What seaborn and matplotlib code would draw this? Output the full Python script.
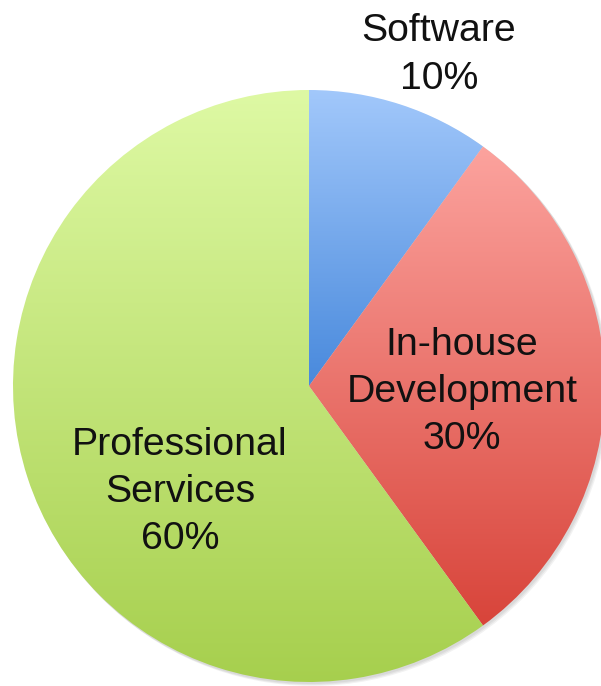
import numpy as np
import matplotlib
matplotlib.use("Agg")
import matplotlib.pyplot as plt
import seaborn as sns
from matplotlib.colors import LinearSegmentedColormap

sns.set_theme(style="white")
plt.rcParams['font.family'] = ['Liberation Sans', 'DejaVu Sans']

categories = ["Software", "In-house\nDevelopment", "Professional\nServices"]
shares = [10, 30, 60]
top_colors = ["#a2c8fb", "#fca39e", "#def9a4"]
bottom_colors = ["#4889dc", "#d8443a", "#a6cf4d"]
label_pos = [(439, 55), (462, 392), (180, 492)]  # pixel coords (x, y from top)

W, H = 601, 686
fig = plt.figure(figsize=(W / 100, H / 100), dpi=100)
ax = fig.add_axes([0, 0, 1, 1])
ax.set_xlim(0, W)
ax.set_ylim(0, H)
ax.set_aspect('equal')
ax.axis('off')

cx, cy, R = 309, H - 386, 296

# soft shadow
for i, a in enumerate([0.05, 0.05, 0.05]):
    sh = plt.Circle((cx + 1.5 + i, cy - 1.5 - i), R + 0.5, color='black', alpha=a, lw=0, zorder=0)
    ax.add_patch(sh)

wedges, _ = ax.pie(shares, startangle=90, counterclock=False, center=(cx, cy),
                   radius=R, frame=True)
ax.set_xlim(0, W)
ax.set_ylim(0, H)
ax.axis('off')

for w, tc, bc in zip(wedges, top_colors, bottom_colors):
    verts = w.get_path().vertices
    x0, x1 = verts[:, 0].min(), verts[:, 0].max()
    y0, y1 = verts[:, 1].min(), verts[:, 1].max()
    w.set_facecolor('none')
    w.set_edgecolor('none')
    cmap = LinearSegmentedColormap.from_list('g', [bc, tc])
    grad = np.linspace(0, 1, 256).reshape(-1, 1)
    im = ax.imshow(grad, cmap=cmap, extent=[x0 - 1, x1 + 1, y0 - 1, y1 + 1],
                   origin='lower', aspect='auto', zorder=1, interpolation='bilinear')
    im.set_clip_path(w)

ax.set_xlim(0, W)
ax.set_ylim(0, H)

for (lx, ly), cat, s in zip(label_pos, categories, shares):
    ax.text(lx, H - ly, f"{cat}\n{s}%", ha='center', va='center', fontsize=28.3,
            color='#111111', linespacing=1.4, zorder=3)

fig.savefig("out.png", dpi=100)
